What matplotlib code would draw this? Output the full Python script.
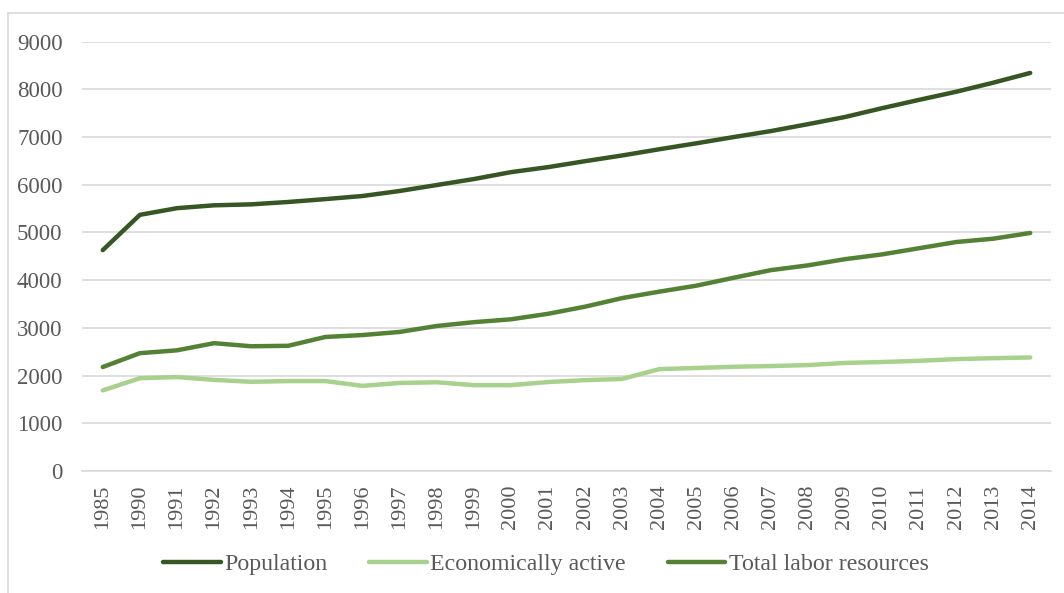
import matplotlib
matplotlib.use("Agg")
import matplotlib.pyplot as plt
from matplotlib.lines import Line2D

years = ["1985"] + [str(y) for y in range(1990, 2015)]

population = [4630, 5370, 5510, 5570, 5590, 5640, 5700, 5765, 5870, 5995,
              6120, 6265, 6370, 6495, 6615, 6745, 6870, 7000, 7125, 7270,
              7420, 7605, 7780, 7950, 8140, 8345]
econ_active = [1690, 1945, 1970, 1910, 1870, 1885, 1885, 1785, 1845, 1860,
               1800, 1800, 1865, 1905, 1930, 2135, 2160, 2185, 2200, 2220,
               2265, 2285, 2310, 2345, 2365, 2380]
labor_total = [2180, 2470, 2530, 2680, 2615, 2625, 2810, 2850, 2915, 3040,
               3120, 3180, 3295, 3445, 3625, 3760, 3885, 4050, 4210, 4310,
               4440, 4540, 4670, 4800, 4870, 4990]

plt.rcParams['font.family'] = ['Liberation Serif', 'DejaVu Serif']

W, H = 1064, 593
fig = plt.figure(figsize=(10.64, 5.93), dpi=100)
ax = fig.add_axes([82/W, 1-471/H, (1051-82)/W, (471-41.7)/H])

x = list(range(len(years)))
ax.plot(x, population, color="#375623", lw=3.2, solid_capstyle="round", label="Population", zorder=3)
ax.plot(x, econ_active, color="#A9D18E", lw=3.2, solid_capstyle="round", label="Economically active", zorder=3)
ax.plot(x, labor_total, color="#548235", lw=3.2, solid_capstyle="round", label="Total labor resources", zorder=3)

ax.set_ylim(0, 9000)
ax.set_xlim(-0.56, len(years) - 1 + 0.56)
ax.set_yticks(range(0, 9001, 1000))
ax.set_xticks(x)
ax.set_xticklabels(years, rotation=90, fontsize=16, color="#595959")
ax.tick_params(axis='y', labelsize=16.5, labelcolor="#595959", length=0, pad=14)
ax.tick_params(axis='x', length=0, pad=10)
ax.grid(axis='y', color="#D9D9D9", lw=1.2)
ax.set_axisbelow(True)
for s in ["top", "right", "left"]:
    ax.spines[s].set_visible(False)
ax.spines["bottom"].set_color("#D9D9D9")
ax.spines["bottom"].set_linewidth(1.2)

leg = fig.legend(loc="center", bbox_to_anchor=(546/W, 1-564/H), ncol=3, frameon=False,
                 fontsize=17.2, handlelength=2.4, columnspacing=1.75, handletextpad=0.15)
for t in leg.get_texts():
    t.set_color("#595959")

# chart-area border (top and left edges visible)
fig.lines.append(Line2D([8/W, 8/W], [0, 1-12.5/H], transform=fig.transFigure,
                        color="#D9D9D9", lw=1.2))
fig.lines.append(Line2D([8/W, 1], [1-12.5/H, 1-12.5/H], transform=fig.transFigure,
                        color="#D9D9D9", lw=1.2))

fig.savefig("out.png", dpi=100)
